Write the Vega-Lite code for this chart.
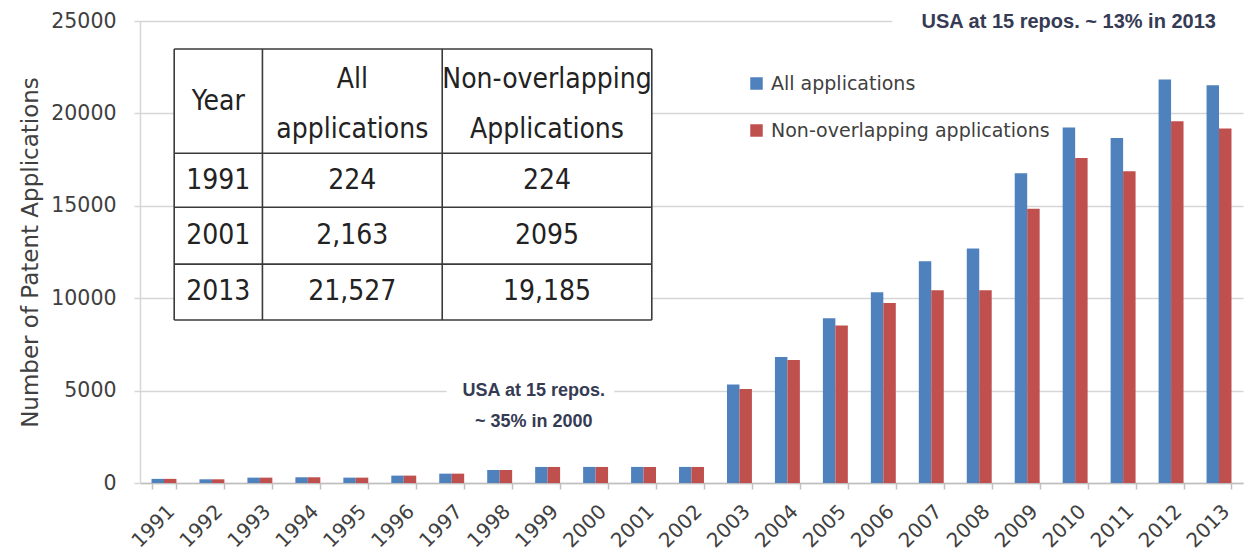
{
  "$schema": "https://vega.github.io/schema/vega-lite/v6.json",
  "autosize": "none",
  "width": 1103,
  "height": 462,
  "padding": {"left": 140, "top": 21, "right": 7, "bottom": 72},
  "background": "white",
  "config": {
    "view": {"stroke": null},
    "legend": {"orient": "none", "legendX": 607, "legendY": 53, "padding": 0}
  },
  "datasets": {
    "bars": [
      {"year": "1991", "series": "All applications", "value": 224},
      {"year": "1991", "series": "Non-overlapping applications", "value": 224},
      {"year": "1992", "series": "All applications", "value": 200},
      {"year": "1992", "series": "Non-overlapping applications", "value": 200},
      {"year": "1993", "series": "All applications", "value": 290},
      {"year": "1993", "series": "Non-overlapping applications", "value": 290},
      {"year": "1994", "series": "All applications", "value": 310},
      {"year": "1994", "series": "Non-overlapping applications", "value": 310},
      {"year": "1995", "series": "All applications", "value": 290},
      {"year": "1995", "series": "Non-overlapping applications", "value": 290},
      {"year": "1996", "series": "All applications", "value": 400},
      {"year": "1996", "series": "Non-overlapping applications", "value": 400},
      {"year": "1997", "series": "All applications", "value": 506},
      {"year": "1997", "series": "Non-overlapping applications", "value": 506},
      {"year": "1998", "series": "All applications", "value": 705},
      {"year": "1998", "series": "Non-overlapping applications", "value": 705},
      {"year": "1999", "series": "All applications", "value": 868},
      {"year": "1999", "series": "Non-overlapping applications", "value": 868},
      {"year": "2000", "series": "All applications", "value": 870},
      {"year": "2000", "series": "Non-overlapping applications", "value": 868},
      {"year": "2001", "series": "All applications", "value": 870},
      {"year": "2001", "series": "Non-overlapping applications", "value": 865},
      {"year": "2002", "series": "All applications", "value": 870},
      {"year": "2002", "series": "Non-overlapping applications", "value": 868},
      {"year": "2003", "series": "All applications", "value": 5336},
      {"year": "2003", "series": "Non-overlapping applications", "value": 5080},
      {"year": "2004", "series": "All applications", "value": 6817},
      {"year": "2004", "series": "Non-overlapping applications", "value": 6654},
      {"year": "2005", "series": "All applications", "value": 8915},
      {"year": "2005", "series": "Non-overlapping applications", "value": 8517},
      {"year": "2006", "series": "All applications", "value": 10325},
      {"year": "2006", "series": "Non-overlapping applications", "value": 9745},
      {"year": "2007", "series": "All applications", "value": 12006},
      {"year": "2007", "series": "Non-overlapping applications", "value": 10433},
      {"year": "2008", "series": "All applications", "value": 12690},
      {"year": "2008", "series": "Non-overlapping applications", "value": 10433},
      {"year": "2009", "series": "All applications", "value": 16757},
      {"year": "2009", "series": "Non-overlapping applications", "value": 14843},
      {"year": "2010", "series": "All applications", "value": 19235},
      {"year": "2010", "series": "Non-overlapping applications", "value": 17590},
      {"year": "2011", "series": "All applications", "value": 18675},
      {"year": "2011", "series": "Non-overlapping applications", "value": 16866},
      {"year": "2012", "series": "All applications", "value": 21838},
      {"year": "2012", "series": "Non-overlapping applications", "value": 19577},
      {"year": "2013", "series": "All applications", "value": 21527},
      {"year": "2013", "series": "Non-overlapping applications", "value": 19185}
    ],
    "boxes": [
      {"tx": 3.1, "tx2": 46.4, "ty": 8823, "ty2": 23482},
      {"tx": 27.8, "tx2": 43.0, "ty": 2500, "ty2": 5700},
      {"tx": 68.2, "tx2": 101, "ty": 23800, "ty2": 26100}
    ],
    "table_lines": [
      {"tx": 3.1, "tx2": 46.4, "ty": 23482, "ty2": 23482},
      {"tx": 3.1, "tx2": 46.4, "ty": 17847, "ty2": 17847},
      {"tx": 3.1, "tx2": 46.4, "ty": 14924, "ty2": 14924},
      {"tx": 3.1, "tx2": 46.4, "ty": 11844, "ty2": 11844},
      {"tx": 3.1, "tx2": 46.4, "ty": 8823, "ty2": 8823},
      {"tx": 3.1, "tx2": 3.1, "ty": 8823, "ty2": 23482},
      {"tx": 11.1, "tx2": 11.1, "ty": 8823, "ty2": 23482},
      {"tx": 27.4, "tx2": 27.4, "ty": 8823, "ty2": 23482},
      {"tx": 46.4, "tx2": 46.4, "ty": 8823, "ty2": 23482}
    ],
    "table_text": [
      {"tx": 7.1, "ty": 20640, "label": "Year"},
      {"tx": 19.25, "ty": 21830, "label": "All"},
      {"tx": 19.25, "ty": 19115, "label": "applications"},
      {"tx": 36.9, "ty": 21830, "label": "Non-overlapping"},
      {"tx": 36.9, "ty": 19115, "label": "Applications"},
      {"tx": 7.1, "ty": 16360, "label": "1991"},
      {"tx": 19.25, "ty": 16360, "label": "224"},
      {"tx": 36.9, "ty": 16360, "label": "224"},
      {"tx": 7.1, "ty": 13380, "label": "2001"},
      {"tx": 19.25, "ty": 13380, "label": "2,163"},
      {"tx": 36.9, "ty": 13380, "label": "2095"},
      {"tx": 7.1, "ty": 10340, "label": "2013"},
      {"tx": 19.25, "ty": 10340, "label": "21,527"},
      {"tx": 36.9, "ty": 10340, "label": "19,185"}
    ],
    "note_top": [
      {"tx": 84.2, "ty": 24967, "label": "USA at 15 repos. ~ 13% in 2013"}
    ],
    "note_mid": [
      {"tx": 35.7, "ty": 4989, "label": "USA at 15 repos."},
      {"tx": 35.7, "ty": 3308, "label": "~ 35% in 2000"}
    ]
  },
  "resolve": {"scale": {"x": "independent", "y": "independent"}},
  "layer": [
    {
      "data": {"name": "bars"},
      "mark": {"type": "bar"},
      "encoding": {
        "x": {
          "field": "year", "type": "ordinal",
          "scale": {"paddingInner": 0.48, "paddingOuter": 0.24},
          "axis": {
            "title": null, "labelAngle": -45, "tickBand": "extent",
            "labelFont": "DejaVu Sans", "labelFontSize": 20, "labelColor": "#404040",
            "domainColor": "#bfbfbf", "domainWidth": 1.5, "tickColor": "#bfbfbf", "tickWidth": 1.5, "tickSize": 6,
            "labelPadding": 12, "grid": false
          }
        },
        "xOffset": {
          "field": "series", "type": "nominal",
          "sort": ["All applications", "Non-overlapping applications"],
          "scale": {"paddingInner": 0, "paddingOuter": 0}
        },
        "y": {
          "field": "value", "type": "quantitative",
          "scale": {"domain": [0, 25000], "nice": false},
          "axis": {
            "title": "Number of Patent Applications",
            "values": [0, 5000, 10000, 15000, 20000, 25000], "format": "d",
            "grid": true, "gridColor": "#d6d6d6", "gridWidth": 1.5,
            "domainColor": "#d6d6d6", "domainWidth": 1.5, "tickColor": "#d6d6d6", "tickWidth": 1.5, "tickSize": 6,
            "labelFont": "DejaVu Sans", "labelFontSize": 20.5, "labelColor": "#404040", "labelPadding": 18,
            "titleFont": "DejaVu Sans", "titleFontSize": 23, "titleFontWeight": "normal", "titleColor": "#404040", "titlePadding": 8
          }
        },
        "color": {
          "field": "series", "type": "nominal",
          "scale": {"domain": ["All applications", "Non-overlapping applications"], "range": ["#4F81BD", "#C0504D"]},
          "legend": {
            "title": null, "symbolType": "square", "symbolSize": 156, "symbolStrokeWidth": 0,
            "labelFont": "DejaVu Sans", "labelFontSize": 19, "labelColor": "#404040",
            "labelOffset": 5, "rowPadding": 27, "labelLimit": 400
          }
        }
      }
    },
    {
      "layer": [
        {
          "data": {"name": "boxes"},
          "mark": {"type": "rect", "fill": "white", "stroke": null},
          "encoding": {
            "x": {"field": "tx", "type": "quantitative", "scale": {"domain": [0, 100], "nice": false, "zero": false}, "axis": null},
            "x2": {"field": "tx2"},
            "y": {"field": "ty", "type": "quantitative", "scale": {"domain": [0, 25000], "nice": false}, "axis": null},
            "y2": {"field": "ty2"}
          }
        },
        {
          "data": {"name": "table_lines"},
          "mark": {"type": "rule", "color": "#3a3a3a", "strokeWidth": 1.6},
          "encoding": {
            "x": {"field": "tx", "type": "quantitative"},
            "x2": {"field": "tx2"},
            "y": {"field": "ty", "type": "quantitative"},
            "y2": {"field": "ty2"}
          }
        },
        {
          "data": {"name": "table_text"},
          "mark": {"type": "text", "font": "DejaVu Sans Condensed, Liberation Sans, sans-serif", "fontSize": 28, "color": "#222222", "align": "center", "baseline": "middle"},
          "encoding": {
            "x": {"field": "tx", "type": "quantitative"},
            "y": {"field": "ty", "type": "quantitative"},
            "text": {"field": "label"}
          }
        },
        {
          "data": {"name": "note_top"},
          "mark": {"type": "text", "font": "Liberation Sans", "fontWeight": "bold", "fontSize": 20, "color": "#363b54", "align": "center", "baseline": "middle"},
          "encoding": {
            "x": {"field": "tx", "type": "quantitative"},
            "y": {"field": "ty", "type": "quantitative"},
            "text": {"field": "label"}
          }
        },
        {
          "data": {"name": "note_mid"},
          "mark": {"type": "text", "font": "Liberation Sans", "fontWeight": "bold", "fontSize": 18, "color": "#363b54", "align": "center", "baseline": "middle"},
          "encoding": {
            "x": {"field": "tx", "type": "quantitative"},
            "y": {"field": "ty", "type": "quantitative"},
            "text": {"field": "label"}
          }
        }
      ]
    }
  ]
}
